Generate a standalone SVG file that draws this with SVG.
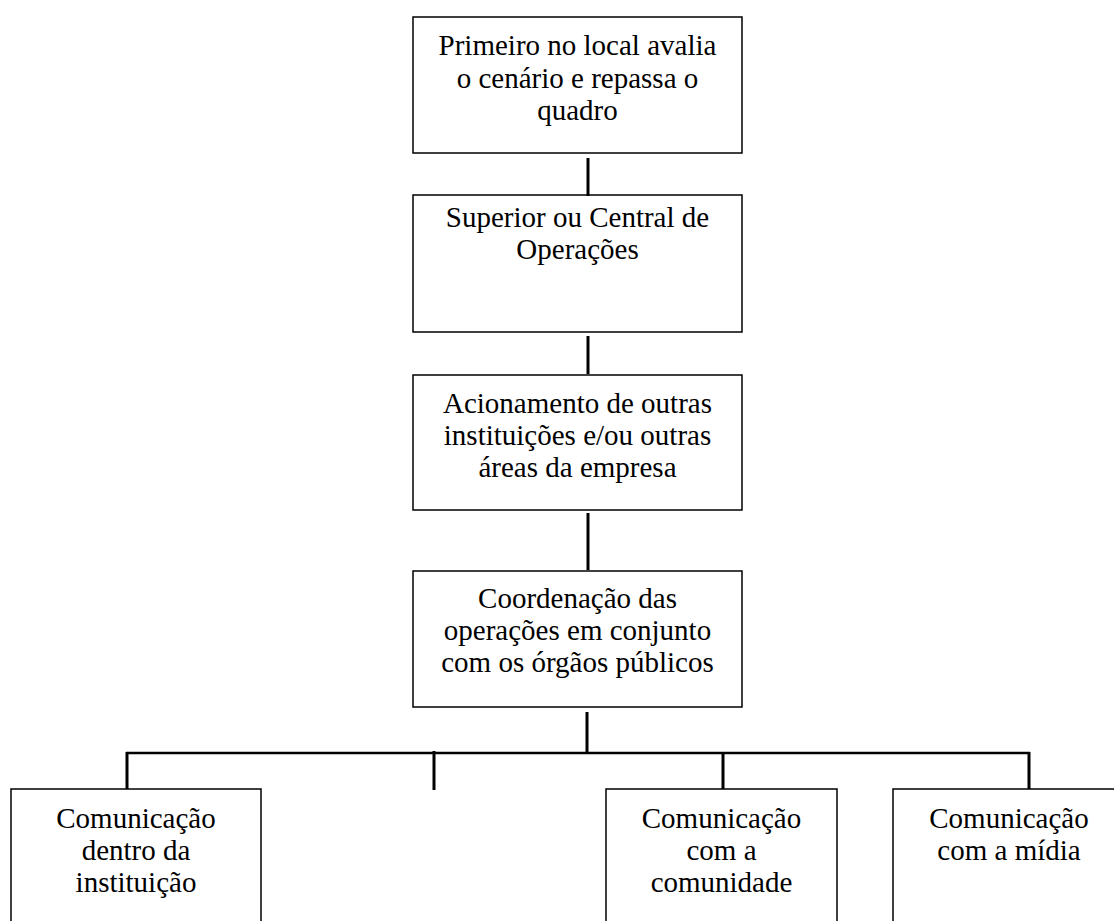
<svg xmlns="http://www.w3.org/2000/svg" width="1114" height="921" viewBox="0 0 1114 921">
<style>
.box{fill:#fff;stroke:#000;stroke-width:1.5}
.t{font-family:"Liberation Serif","Times New Roman",serif;font-size:29px;fill:#000;text-anchor:middle}
.c{stroke:#000;stroke-width:3;fill:none}
</style>
<rect width="1114" height="921" fill="#fff"/>
<g id="n1"><rect class="box" x="413" y="17" width="329" height="136"/>
<text class="t" x="577.5" y="55">Primeiro no local avalia</text>
<text class="t" x="577.5" y="88">o cenário e repassa o</text>
<text class="t" x="577.5" y="120">quadro</text></g>
<g id="n2"><rect class="box" x="413" y="195" width="329" height="137"/>
<text class="t" x="577.5" y="227">Superior ou Central de</text>
<text class="t" x="577.5" y="259">Operações</text></g>
<g id="n3"><rect class="box" x="413" y="375" width="329" height="135"/>
<text class="t" x="577.5" y="413">Acionamento de outras</text>
<text class="t" x="577.5" y="445">instituições e/ou outras</text>
<text class="t" x="577.5" y="477">áreas da empresa</text></g>
<g id="n4"><rect class="box" x="413" y="571" width="329" height="136"/>
<text class="t" x="577.5" y="608">Coordenação das</text>
<text class="t" x="577.5" y="640">operações em conjunto</text>
<text class="t" x="577.5" y="672">com os órgãos públicos</text></g>
<g id="n5"><rect class="box" x="11" y="789" width="250" height="160"/>
<text class="t" x="136" y="828">Comunicação</text>
<text class="t" x="136" y="860">dentro da</text>
<text class="t" x="136" y="892">instituição</text></g>
<g id="n6"><rect class="box" x="606" y="789" width="231" height="160"/>
<text class="t" x="721.5" y="828">Comunicação</text>
<text class="t" x="721.5" y="860">com a</text>
<text class="t" x="721.5" y="892">comunidade</text></g>
<g id="n7"><rect class="box" x="893" y="789" width="232" height="160"/>
<text class="t" x="1009" y="828">Comunicação</text>
<text class="t" x="1009" y="860">com a mídia</text></g>
<g id="connectors">
<line class="c" x1="588" y1="158" x2="588" y2="196"/>
<line class="c" x1="588" y1="336" x2="588" y2="374"/>
<line class="c" x1="588" y1="513" x2="588" y2="570"/>
<line class="c" x1="587" y1="712" x2="587" y2="752"/>
<line class="c" x1="126" y1="753" x2="1030" y2="753" style="stroke-width:2.5"/>
<line class="c" x1="127" y1="752" x2="127" y2="789"/>
<line class="c" x1="434" y1="751" x2="434" y2="790"/>
<line class="c" x1="723" y1="752" x2="723" y2="789"/>
<line class="c" x1="1029" y1="752" x2="1029" y2="789"/>
</g>
</svg>
